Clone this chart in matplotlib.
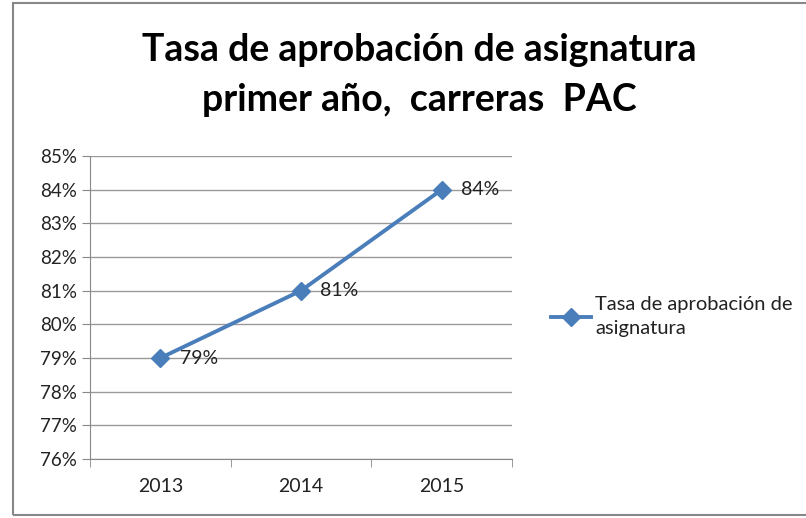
import matplotlib.pyplot as plt
from matplotlib.patches import Rectangle
from matplotlib.ticker import FuncFormatter, FixedLocator

plt.rcParams["font.family"] = ["Lato", "DejaVu Sans"]

years = ["2013", "2014", "2015"]
rates = [79, 81, 84]
series_name = "Tasa de aprobación de\nasignatura"

fig = plt.figure(figsize=(8.06, 5.18), dpi=100)
ax = fig.add_axes([0.1117, 0.1139, 0.5235, 0.5849])

x = range(len(years))
ax.plot(x, rates, color="#4A7EBB", lw=2.8, marker="D", ms=9, label=series_name)
for xi, v in zip(x, rates):
    ax.annotate(f"{v}%", (xi, v), xytext=(14, 0), textcoords="offset points",
                va="center", ha="left", fontsize=14, color="#222222")

ax.set_xlim(-0.5, 2.5)
ax.set_ylim(76, 85)
ax.set_yticks(range(76, 86))
ax.yaxis.set_major_formatter(FuncFormatter(lambda v, p: f"{v:.0f}%"))
ax.set_xticks(list(x))
ax.set_xticklabels(years)
ax.xaxis.set_minor_locator(FixedLocator([-0.5, 0.5, 1.5, 2.5]))
ax.tick_params(axis="x", which="major", length=0, pad=14, labelsize=14, colors="#222222")
ax.tick_params(axis="x", which="minor", length=6, color="#888888")
ax.tick_params(axis="y", length=6, color="#888888", labelsize=13.5, labelcolor="#222222")
ax.grid(axis="y", color="#9a9a9a", lw=1)
ax.set_axisbelow(True)
for s in ["top", "right"]:
    ax.spines[s].set_visible(False)
for s in ["left", "bottom"]:
    ax.spines[s].set_color("#888888")

fig.text(0.52, 0.903, "Tasa de aprobación de asignatura", ha="center", va="center",
         fontsize=27, fontweight="bold")
fig.text(0.52, 0.806, "primer año,  carreras  PAC", ha="center", va="center",
         fontsize=27, fontweight="bold")

leg = ax.legend(loc="center left", bbox_to_anchor=(1.045, 0.47), borderaxespad=0.6,
                frameon=False, fontsize=14.5, handlelength=2.0, handletextpad=0.2)
for t in leg.get_texts():
    t.set_linespacing(1.55)
    t.set_color("#222222")

fig.patches.append(Rectangle((0.016, 0.006), 1.0, 0.988, transform=fig.transFigure,
                             fill=False, edgecolor="#888888", lw=1.5))

fig.savefig("out.png", dpi=100)
